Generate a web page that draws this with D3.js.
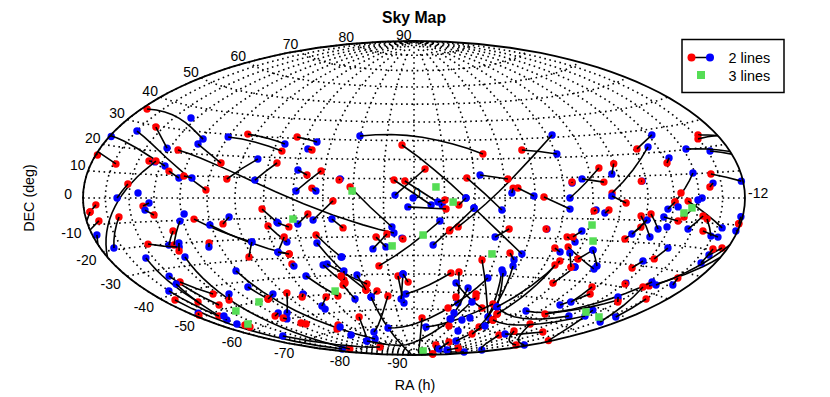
<!DOCTYPE html>
<html>
<head>
<meta charset="utf-8">
<script src="https://cdn.jsdelivr.net/npm/d3@7"></script>
<style>
body { margin: 0; background: #fff; }
text { font-family: "Liberation Sans", Arial, sans-serif; fill: #000; }
</style>
</head>
<body>
<svg id="chart" width="830" height="397"></svg>
<script>
// values: RA in hours, DEC in degrees, one entry per pair
const ra1 = [-11.74,-10.34,-10.99,11.13,10.98,11.11,10.13,-8.59,-7.96,-9.55,
  -9.27,-10.10,-8.63,-7.99,-7.00,-6.31,-4.35,-3.77,-5.44,-4.71,
  -3.92,-3.12,-3.37,-2.45,-2.01,-0.43,5.20,3.82,2.20,1.75,
  5.30,5.67,6.37,6.97,6.68,6.67,3.43,3.27,4.30,0.37,
  -0.66,-0.30,-0.20,1.47,1.01,-2.10,-2.66,-3.52,-2.73,-5.07,
  -4.59,-6.55,-7.57,-7.04,-9.20,-9.39,-11.43,11.92,11.92,-10.52,
  -8.52,-8.12,-9.80,-8.52,-7.35,-4.96,-4.50,-4.94,-5.73,-4.65,
  -3.36,-3.40,-3.30,-3.47,-4.39,-4.23,-10.32,-10.11,-9.95,-10.24,
  -11.01,-11.42,-11.57,-8.66,-8.52,-7.07,-7.27,-6.54,-5.85,-5.17,
  -7.70,-7.86,-10.69,-1.25,-3.50,0.86,-1.30,-0.92,-0.41,0.67,
  1.97,1.78,1.47,-0.65,-0.44,-0.25,-2.76,-3.07,-2.30,-1.69,
  -2.08,0.53,-2.17,-6.05,2.53,3.45,3.55,3.80,1.79,2.40,
  0.98,4.08,6.46,8.36,11.25,5.53,5.53,7.96,7.99,7.88,
  11.81,6.28,7.54,7.50,7.80,4.48,5.22,5.50,5.41,5.92,
  6.10,5.31,5.33,5.79,4.53,3.22,3.48,5.52,6.51,6.51,
  5.70,6.13,6.46,7.50,7.68,7.81,8.17,8.69,9.04,8.79,
  9.56,10.13,10.26,10.46,10.47,11.92,11.74,11.36,9.41,8.79,
  9.05,11.05,11.02,9.59,11.21,10.48,9.16,9.21,10.66,10.65,7.84,1.20]
const dec1 = [35.1,29.5,26.8,24.9,23.5,18.4,20.2,11.8,9.9,15.6,
  15.8,5.7,21.2,24.5,28.8,30.8,30.7,24.8,19.0,17.3,
  14.0,13.7,5.0,9.7,32.2,27.6,31.2,24.2,11.8,10.3,
  7.3,9.2,14.2,16.0,2.3,0.9,5.0,5.0,0.5,15.0,
  9.3,8.8,-4.6,-3.6,-1.0,5.6,-1.5,-8.0,-10.7,-5.4,
  -12.4,-12.2,-9.6,-12.5,-2.1,-5.1,-2.6,-9.5,-12.2,-7.6,
  -14.5,-10.3,-19.3,-19.9,-20.8,-13.7,-19.4,-26.8,-21.3,-33.1,
  -18.7,-22.8,-33.8,-34.3,-39.6,-51.3,-24.7,-33.1,-36.1,-36.6,
  -38.4,-41.9,-48.3,-26.2,-44.5,-34.6,-42.6,-47.3,-47.5,-48.8,
  -56.5,-59.8,-65.4,-52.2,-63.7,-11.9,-20.2,-18.6,-20.8,-24.4,
  -5.1,-38.7,-39.3,-41.1,-40.0,-44.5,-37.8,-45.3,-40.2,-49.3,
  -52.6,-65.4,-71.3,-77.6,-32.0,-37.0,-38.5,-34.6,-44.7,-47.3,
  -71.0,-82.1,-84.0,-83.4,-78.0,-78.1,-73.0,-69.8,-67.6,-63.0,
  -65.9,-57.3,-57.3,-52.1,-50.0,-56.9,-64.1,-31.0,-33.1,-42.1,
  -33.6,-26.5,-19.0,-15.9,-15.4,-15.7,-28.0,-23.9,-24.8,-24.8,
  -26.8,-5.7,-7.1,-18.8,-16.4,-8.1,-7.1,-8.3,-1.7,-4.8,
  -1.3,0.0,-7.3,-8.4,-13.3,-6.9,-18.9,-19.7,-21.4,-27.9,
  -38.1,-32.4,-42.3,-44.2,-54.4,-36.6,27.5,17.2,9.5,5.9,7.6,-17.0]
const ra2 = [-7.93,-9.12,-7.05,-11.92,-8.82,-11.92,-10.88,-8.13,-7.64,-9.29,
  10.23,-10.50,-0.68,-6.73,-4.68,-4.68,-3.53,-3.61,-6.35,-5.35,
  -3.58,-3.90,-3.23,-2.48,2.40,1.70,1.48,5.03,3.12,2.90,
  5.30,6.43,5.19,6.78,8.63,7.19,3.96,3.22,5.21,-0.62,
  0.56,0.92,1.05,1.70,0.78,-0.74,-3.37,-3.91,-2.39,-4.62,
  -4.24,-6.27,-5.73,-4.56,-9.45,-9.07,-11.74,-11.74,-11.44,-11.38,
  -8.97,-8.76,-8.61,-8.72,-7.44,-4.46,-4.94,-4.56,-6.14,-4.62,
  -2.68,-2.17,-2.02,-2.94,-3.63,-4.89,-10.53,-9.82,-9.24,-11.00,
  -10.91,-11.05,-11.74,-10.56,-8.95,-4.73,-7.07,-7.07,-7.24,-5.36,
  -8.16,-7.96,-6.72,-3.71,-6.05,-1.34,-0.99,-1.46,-0.38,1.21,
  3.93,2.28,-0.38,-0.52,-0.64,-0.44,-2.92,-2.91,-2.17,-2.08,
  10.68,10.68,3.04,2.99,4.66,4.66,5.22,5.05,3.74,2.41,
  4.11,11.25,5.00,8.42,7.76,5.22,4.95,9.84,11.31,11.71,
  9.53,9.82,10.13,8.12,7.79,8.98,9.76,4.48,4.95,6.25,
  6.25,5.05,5.69,5.54,4.50,2.79,3.73,7.08,6.15,7.10,
  6.10,6.06,6.59,7.92,8.07,8.43,8.61,9.29,9.92,9.04,
  11.24,9.49,9.81,10.92,11.25,11.92,11.39,11.35,9.18,8.60,
  9.06,11.24,11.35,9.98,10.03,-11.79,8.14,9.03,11.92,10.49,7.81,1.97]
const dec2 = [26.9,21.6,3.7,23.2,13.9,16.0,13.4,8.9,9.1,15.4,
  -37.5,0.0,-18.1,16.4,23.3,26.9,28.5,24.3,9.0,8.7,
  11.6,3.5,3.5,9.2,22.6,0.0,-14.9,21.7,9.6,-6.1,
  7.8,7.5,0.0,11.2,22.6,-2.3,1.0,2.5,-5.4,1.5,
  -3.6,-3.6,-5.7,0.0,-2.1,-15.0,-11.1,-13.0,-15.3,-11.9,
  -14.4,-9.0,-21.3,-28.0,-3.4,-7.3,-5.2,-5.2,-8.7,-19.3,
  -20.5,-20.6,-21.7,-23.4,-22.6,-21.9,-26.8,-28.0,-28.5,-34.2,
  -30.4,-48.5,-45.2,-44.3,-51.2,-55.9,-44.9,-48.0,-43.3,-53.7,
  -51.6,-77.2,-48.9,-78.4,-47.0,-77.3,-49.4,-49.4,-57.2,-50.3,
  -57.5,-59.1,-82.0,-73.1,-77.6,-35.5,-25.4,-26.4,-21.3,-16.5,
  -28.3,-56.0,-51.2,-56.4,-54.1,-40.0,-42.6,-53.3,-48.5,-52.6,
  -86.7,-86.7,-41.5,-52.1,-62.7,-62.7,-64.1,-68.7,-58.1,-65.5,
  -55.4,-81.2,-79.3,-81.1,-70.9,-64.1,-60.6,-64.6,-71.7,-70.4,
  -51.4,-45.3,-35.8,-45.1,-41.9,-56.0,-54.3,-56.9,-60.6,-33.4,
  -33.4,-24.7,-21.3,-18.9,-15.4,-19.9,-31.5,-33.6,-29.5,-32.1,
  -33.6,-6.2,-5.6,-13.1,-9.8,-17.3,-13.6,-9.8,10.3,-1.7,
  -11.5,-8.0,-12.9,-15.0,-15.1,-9.5,-22.1,-25.4,-26.5,-31.4,
  -38.5,-35.2,-51.1,-46.1,-38.4,-13.8,22.1,15.1,6.2,4.4,7.6,-5.1]
// end colours of each pair: r red, b blue
const pairKinds = `rb rb br rb rb br br rb rb rb rr rb rb br br rb rb br br rb
  br rb rb br br rb br rb br rb br br rb rb rb br rb rb rb rb
  rb rb br rb rb rb rb rb br rb br rb rb br br br rr rr br rb
  rb br rb br rb rb rb br br rb rb br br br br rb br br rr bb
  br rb br br br bb br br rb br br br br rb rb br rb rb br br
  bb rb rb rb bb rb br rb br rb br rr bb br rb bb br br br bb
  br rb br br br br rr br rr rb rb br rb br br bb rb rb rr rb
  rb br rb br br rb rb rb br bb br br br rr bb rb rb br rb br
  rb br rb rb rb br rb rb br br br rb rb br br bb br br rb br br rb`.trim().split(/\s+/)

// single points that have no visible partner
const blueRa = [-9.26,-9.64,-7.90,8.93,-0.03,-2.65,3.25,3.63,-5.67,-11.04,-10.68,-6.12,2.96,2.47,2.39,5.35,3.93,-4.92,9.18,9.96]
const blueDec = [35.3,2.1,-7.2,-12.5,0.0,-30.4,-65.7,-64.2,-68.1,-56.1,-52.2,-73.1,-55.0,-65.5,-61.8,-67.8,-72.3,-57.7,-3.8,-0.8]
const redRa = [9.28,-10.79,-10.83,-7.58,-7.42,-5.56,-6.16,2.91,2.03,1.89,2.74,-2.96]
const redDec = [2.1,-57.4,-58.6,-62.9,-63.8,-66.9,-68.9,-50.5,-52.6,-59.1,-69.7,-40.4]
// the "3 lines" squares
const greenRa = [-2.03,0.72,1.28,0.31,-0.77,-4.05,-3.59,-7.70,-9.58,-10.51,3.91,2.83,6.09,6.34,9.39,10.55,9.45,9.74]
const greenDec = [3.6,5.7,-2.1,-19.2,-24.9,-10.5,-48.4,-50.1,-51.8,-57.5,-86.7,-28.7,-12.9,-20.5,-52.8,-53.1,-6.3,-4.1]

const decTicks = d3.range(-90, 91, 10)
const legendRows = ['2 lines', '3 lines']

const RED = '#ff0000', BLUE = '#0000ff', GREEN = '#55dd55'
const cx = 414, cy = 198, rx = 331, ry = 157

// Hammer projection, stretched to the axes box of the figure
function hammerRaw(lon, lat) {
    const w = Math.sqrt(1 + Math.cos(lat) * Math.cos(lon / 2))
    return [rx * Math.cos(lat) * Math.sin(lon / 2) / w, ry * Math.sin(lat) / w]
}
const projection = d3.geoProjection(hammerRaw).scale(1).translate([cx, cy]).precision(0.2)
const path = d3.geoPath(projection)
const pos = (ra, dec) => projection([ra * 15, dec])

const svg = d3.select('#chart')

const graticule = d3.geoGraticule().extent([[-180, -90.01], [180, 90.01]]).step([15, 10])
svg.append('path')
    .datum(graticule())
    .attr('d', path)
    .attr('fill', 'none')
    .attr('stroke', '#000')
    .attr('stroke-width', 1.6)
    .attr('stroke-dasharray', '1.6 3.6')

// DEC labels run round the left rim, RA labels sit on the equator
svg.selectAll('.dec-label')
    .data(decTicks)
    .join('text')
    .attr('class', 'dec-label')
    .attr('x', d => pos(-11.9999, d)[0] + (d > 0 ? -2.5 : d < 0 ? -6.5 : -11))
    .attr('y', d => pos(-11.9999, d)[1] + (d > 0 ? -6 : d < 0 ? 8 : -4))
    .attr('dy', '0.35em')
    .attr('text-anchor', 'end')
    .attr('font-size', 14)
    .text(d => d)
svg.append('text').attr('x', cx + 3).attr('y', cy - 5).attr('dy', '0.35em').attr('text-anchor', 'middle').attr('font-size', 14).text('0')
svg.append('text').attr('x', cx + rx + 3).attr('y', cy - 5).attr('dy', '0.35em').attr('font-size', 14).text('-12')

const pairs = ra1.map((d, i) => ({
    ra1: d, dec1: dec1[i], ra2: ra2[i], dec2: dec2[i],
    kind: pairKinds[i]
}))
const colorOf = k => k === 'r' ? RED : BLUE

const pairGroup = svg.selectAll('.pair').data(pairs).join('g').attr('class', 'pair')
pairGroup.append('circle')
    .attr('cx', d => pos(d.ra1, d.dec1)[0]).attr('cy', d => pos(d.ra1, d.dec1)[1])
    .attr('r', 3.7).attr('fill', d => colorOf(d.kind[0]))
pairGroup.append('circle')
    .attr('cx', d => pos(d.ra2, d.dec2)[0]).attr('cy', d => pos(d.ra2, d.dec2)[1])
    .attr('r', 3.7).attr('fill', d => colorOf(d.kind[1]))
pairGroup.append('path')
    .attr('d', d => path({type: 'LineString', coordinates: [[d.ra1 * 15, d.dec1], [d.ra2 * 15, d.dec2]]}))
    .attr('fill', 'none').attr('stroke', '#000').attr('stroke-width', 1.6)

svg.selectAll('.lone-red').data(redRa).join('circle').attr('class', 'lone-red')
    .attr('cx', (d, i) => pos(d, redDec[i])[0]).attr('cy', (d, i) => pos(d, redDec[i])[1])
    .attr('r', 3.7).attr('fill', RED)
svg.selectAll('.lone-blue').data(blueRa).join('circle').attr('class', 'lone-blue')
    .attr('cx', (d, i) => pos(d, blueDec[i])[0]).attr('cy', (d, i) => pos(d, blueDec[i])[1])
    .attr('r', 3.7).attr('fill', BLUE)
svg.selectAll('.green').data(greenRa).join('rect').attr('class', 'green')
    .attr('x', (d, i) => pos(d, greenDec[i])[0] - 3.75).attr('y', (d, i) => pos(d, greenDec[i])[1] - 3.75)
    .attr('width', 7.5).attr('height', 7.5).attr('fill', GREEN)

svg.append('path')
    .datum({type: 'Sphere'})
    .attr('d', path)
    .attr('fill', 'none')
    .attr('stroke', '#000')
    .attr('stroke-width', 1.8)

svg.append('text').attr('x', 414).attr('y', 17).attr('dy', '0.35em').attr('text-anchor', 'middle')
    .attr('font-size', 15.8).attr('font-weight', 'bold').text('Sky Map')
svg.append('text').attr('x', 415).attr('y', 385).attr('dy', '0.35em').attr('text-anchor', 'middle')
    .attr('font-size', 14.3).text('RA (h)')
svg.append('text').attr('transform', 'translate(29,198) rotate(-90)').attr('dy', '0.35em').attr('text-anchor', 'middle')
    .attr('font-size', 14.3).text('DEC (deg)')

// legend
const legend = svg.append('g')
legend.append('rect').attr('x', 682).attr('y', 39.5).attr('width', 102).attr('height', 53)
    .attr('fill', '#fff').attr('stroke', '#000').attr('stroke-width', 1.5)
legend.append('line').attr('x1', 691.5).attr('x2', 710).attr('y1', 57.5).attr('y2', 57.5).attr('stroke', '#000').attr('stroke-width', 1.5)
legend.append('circle').attr('cx', 691.5).attr('cy', 57.5).attr('r', 4).attr('fill', RED)
legend.append('circle').attr('cx', 710).attr('cy', 57.5).attr('r', 4).attr('fill', BLUE)
legend.append('rect').attr('x', 697).attr('y', 71).attr('width', 8).attr('height', 8).attr('fill', GREEN)
legend.selectAll('text').data(legendRows).join('text')
    .attr('x', 728.5).attr('y', (d, i) => 57.5 + i * 18).attr('dy', '0.35em')
    .attr('font-size', 14.4).text(d => d)
</script>
</body>
</html>
